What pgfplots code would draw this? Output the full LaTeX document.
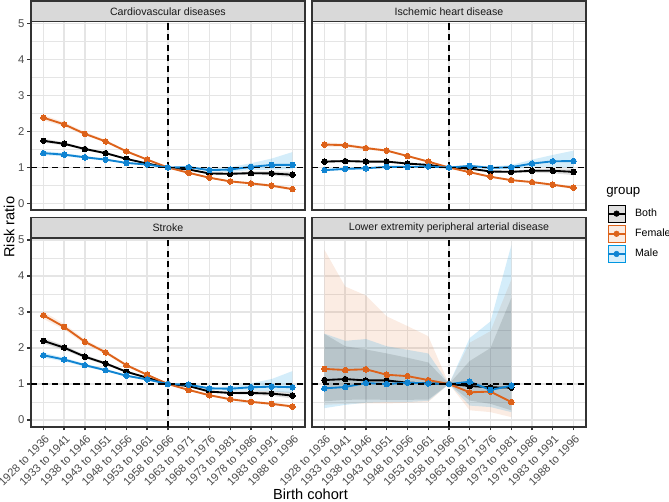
\documentclass[border=0pt]{standalone}
\usepackage{fontspec}
\setmainfont{Liberation Sans}
\usepackage{pgfplots}
\pgfplotsset{compat=1.18}
\usepackage{pgfplotstable}
\usepgfplotslibrary{fillbetween}

\definecolor{grey92}{gray}{0.90}
\definecolor{grey85}{gray}{0.85}
\definecolor{grey20}{gray}{0.2}
\definecolor{grey30}{gray}{0.3}
\definecolor{grey10}{gray}{0.1}
\definecolor{cfem}{RGB}{221,98,26}
\definecolor{cmale}{RGB}{16,132,210}
\definecolor{cmalefill}{RGB}{0,150,225}

% x b blo bhi f flo fhi m mlo mhi
\pgfplotstableread{
x b blo bhi f flo fhi m mlo mhi
0 1.743 1.69 1.80 2.385 2.31 2.46 1.40 1.34 1.46
1 1.66 1.62 1.70 2.20 2.14 2.26 1.358 1.32 1.40
2 1.514 1.48 1.55 1.936 1.89 1.99 1.284 1.25 1.32
3 1.40 1.37 1.43 1.725 1.69 1.77 1.22 1.19 1.25
4 1.24 1.215 1.265 1.45 1.415 1.485 1.128 1.10 1.155
5 1.11 1.09 1.13 1.22 1.195 1.245 1.083 1.06 1.105
6 1 1 1 1 1 1 1 1 1
7 0.945 0.925 0.965 0.853 0.833 0.873 1.01 0.98 1.04
8 0.835 0.81 0.86 0.716 0.69 0.74 0.927 0.89 0.97
9 0.826 0.795 0.86 0.615 0.585 0.645 0.945 0.88 1.01
10 0.844 0.80 0.89 0.56 0.525 0.595 1.018 0.93 1.12
11 0.835 0.78 0.895 0.495 0.455 0.535 1.073 0.94 1.25
12 0.80 0.73 0.88 0.40 0.36 0.445 1.073 0.95 1.43
}\cvd

\pgfplotstableread{
x b blo bhi f flo fhi m mlo mhi
0 1.165 1.13 1.20 1.64 1.58 1.70 0.927 0.89 0.965
1 1.18 1.15 1.21 1.62 1.57 1.67 0.963 0.93 0.995
2 1.165 1.14 1.19 1.54 1.50 1.58 0.98 0.955 1.005
3 1.165 1.14 1.19 1.47 1.435 1.505 1.018 0.995 1.04
4 1.11 1.09 1.13 1.32 1.29 1.35 1.018 0.998 1.038
5 1.073 1.055 1.09 1.165 1.14 1.19 1.028 1.01 1.046
6 1 1 1 1 1 1 1 1 1
7 0.97 0.95 0.99 0.87 0.85 0.89 1.046 1.01 1.08
8 0.89 0.865 0.915 0.743 0.72 0.765 0.99 0.95 1.03
9 0.88 0.85 0.91 0.65 0.625 0.675 1.01 0.95 1.07
10 0.91 0.86 0.96 0.596 0.565 0.625 1.11 1.00 1.22
11 0.91 0.84 0.98 0.523 0.49 0.56 1.174 1.02 1.35
12 0.88 0.79 0.98 0.44 0.40 0.48 1.18 0.98 1.47
}\ihd

\pgfplotstableread{
x b blo bhi f flo fhi m mlo mhi
0 2.20 2.12 2.28 2.91 2.81 3.01 1.80 1.73 1.87
1 2.01 1.95 2.07 2.587 2.51 2.67 1.68 1.63 1.73
2 1.76 1.71 1.81 2.174 2.11 2.24 1.523 1.48 1.565
3 1.57 1.53 1.61 1.88 1.83 1.93 1.385 1.35 1.42
4 1.34 1.31 1.37 1.523 1.48 1.565 1.23 1.20 1.26
5 1.174 1.15 1.20 1.257 1.225 1.29 1.128 1.10 1.155
6 1 1 1 1 1 1 1 1 1
7 0.945 0.92 0.97 0.835 0.81 0.86 0.98 0.95 1.01
8 0.79 0.76 0.82 0.688 0.66 0.715 0.88 0.84 0.92
9 0.752 0.715 0.79 0.578 0.55 0.61 0.87 0.81 0.93
10 0.752 0.70 0.81 0.505 0.47 0.54 0.91 0.82 1.02
11 0.734 0.67 0.81 0.45 0.41 0.49 0.927 0.80 1.14
12 0.68 0.60 0.78 0.376 0.33 0.42 0.91 0.75 1.36
}\stroke

\pgfplotstableread{
x b blo bhi f flo fhi m mlo mhi
0 1.11 0.52 2.39 1.42 0.42 4.73 0.88 0.33 2.40
1 1.138 0.56 2.05 1.39 0.45 3.71 0.917 0.42 2.20
2 1.10 0.57 1.96 1.41 0.46 3.46 1.028 0.48 2.25
3 1.10 0.56 1.85 1.257 0.46 2.88 1.0 0.50 2.05
4 1.037 0.56 1.73 1.22 0.48 2.61 1.037 0.50 1.95
5 1.018 0.57 1.60 1.11 0.50 2.33 1.018 0.53 1.85
6 1 1 1 1 1 1 1 1 1
7 0.945 0.54 1.64 0.77 0.27 2.15 1.064 0.40 2.28
8 0.908 0.45 2.00 0.79 0.22 2.47 0.835 0.36 2.74
9 0.90 0.27 3.39 0.50 0.08 3.90 0.954 0.22 4.85
}\lepad

\pgfplotsset{
  facet/.style={
    scale only axis, width=206.3pt, height=142pt,
    xmin=-0.6, xmax=12.6, ymin=-0.185, ymax=5.055,
    xtick={0,...,12}, ytick={0,...,5},
    minor ytick={0.5,1.5,2.5,3.5,4.5},
    grid=both,
    major grid style={draw=grey92, line width=1.07pt},
    minor grid style={draw=grey92, line width=0.53pt},
    axis line style={draw=grey20, line width=1.3pt},
    tick style={draw=grey20, line width=1.07pt},
    major tick length=2.75pt, minor tick length=0pt,
    tick align=outside, xtick pos=bottom, ytick pos=left,
    /pgf/number format/assume math mode=true,
    tick label style={font=\fontsize{8.5}{10}\selectfont, text=grey30},
    xticklabels={1928 to 1936,1933 to 1941,1938 to 1946,1943 to 1951,1948 to 1956,1953 to 1961,1958 to 1966,1963 to 1971,1968 to 1976,1973 to 1981,1978 to 1986,1983 to 1991,1988 to 1996},
    xticklabel style={rotate=45, anchor=north east, inner sep=1.5pt, yshift=-1pt},
    yticklabel style={inner sep=2pt},
    /pgfplots/every axis title shift=0pt,
    title style={at={(0.5,1)}, anchor=south, yshift=0pt, minimum width=206.3pt, minimum height=15.5pt, inner sep=0pt, outer sep=0pt, fill=grey85, draw=grey20, line width=1.2pt, font=\fontsize{8}{10}\selectfont, text=grey10},
  },
  noxlabels/.style={xticklabels={}, xtick style={draw=none}},
  noylabels/.style={yticklabels={}, ytick style={draw=none}},
  bline/.style={color=black, line width=1.4pt, mark=*, mark size=2.1pt, mark options={solid, fill=black, draw=black, line width=0pt}},
  fline/.style={color=cfem, line width=1.4pt, mark=*, mark size=2.1pt, mark options={solid, fill=cfem, draw=cfem, line width=0pt}},
  mline/.style={color=cmale, line width=1.4pt, mark=*, mark size=2.1pt, mark options={solid, fill=cmale, draw=cmale, line width=0pt}},
  refline/.style={black, line width=1.4pt, dash pattern=on 4.6pt off 3.4pt, forget plot},
}

\newcommand{\panel}[2]{%
  \addplot[draw=none, name path=bh#2, forget plot] table[x=x,y=bhi]{#1};
  \addplot[draw=none, name path=bl#2, forget plot] table[x=x,y=blo]{#1};
  \addplot[fill=black, fill opacity=0.13, draw=none, forget plot] fill between[of=bh#2 and bl#2];
  \addplot[draw=none, name path=fh#2, forget plot] table[x=x,y=fhi]{#1};
  \addplot[draw=none, name path=fl#2, forget plot] table[x=x,y=flo]{#1};
  \addplot[fill=cfem, fill opacity=0.12, draw=none, forget plot] fill between[of=fh#2 and fl#2];
  \addplot[draw=none, name path=mh#2, forget plot] table[x=x,y=mhi]{#1};
  \addplot[draw=none, name path=ml#2, forget plot] table[x=x,y=mlo]{#1};
  \addplot[fill=cmalefill, fill opacity=0.17, draw=none, forget plot] fill between[of=mh#2 and ml#2];
  \addplot[bline, forget plot] table[x=x,y=b]{#1};
  \addplot[fline, forget plot] table[x=x,y=f]{#1};
  \addplot[mline, forget plot] table[x=x,y=m]{#1};
  \addplot[refline] coordinates {(-0.6,1) (12.6,1)};
  \addplot[refline] coordinates {(6,-0.185) (6,5.055)};
}

\begin{document}
\begin{tikzpicture}

\begin{axis}[facet, noxlabels, at={(23.3pt,-158.25pt)}, anchor=south west,
  title={Cardiovascular diseases}]
\panel{\cvd}{a}
\end{axis}

\begin{axis}[facet, noxlabels, noylabels, at={(234.9pt,-158.25pt)}, anchor=south west,
  title={Ischemic heart disease},
  legend style={at={(1.0766,0.029)}, anchor=north west, draw=none, fill=none,
    inner sep=0pt, outer sep=0pt, row sep=1.8pt,
    font=\fontsize{8}{10}\selectfont,
    nodes={inner sep=0pt, outer sep=0pt},
    /tikz/every odd column/.append style={column sep=6.8pt}},
  legend cell align=left]
\addlegendimage{legend image code/.code={\fill[black, fill opacity=0.12] (0pt,-6.5pt) rectangle (13pt,6.5pt); \draw[black, line width=1.4pt] (0pt,0pt) -- (13pt,0pt); \fill[black] (6.5pt,0pt) circle[radius=2.1pt];}}
\addlegendentry{Both}
\addlegendimage{legend image code/.code={\fill[cfem, fill opacity=0.12] (0pt,-6.5pt) rectangle (13pt,6.5pt); \draw[cfem, line width=1.4pt] (0pt,0pt) -- (13pt,0pt); \fill[cfem] (6.5pt,0pt) circle[radius=2.1pt];}}
\addlegendentry{Female}
\addlegendimage{legend image code/.code={\fill[cmalefill, fill opacity=0.15] (0pt,-6.5pt) rectangle (13pt,6.5pt); \draw[cmale, line width=1.4pt] (0pt,0pt) -- (13pt,0pt); \fill[cmale] (6.5pt,0pt) circle[radius=2.1pt];}}
\addlegendentry{Male}
\panel{\ihd}{b}
\end{axis}

\begin{axis}[facet, at={(23.3pt,-321.25pt)}, anchor=south west,
  title={Stroke}]
\panel{\stroke}{c}
\end{axis}

\begin{axis}[facet, noylabels, at={(234.9pt,-321.25pt)}, anchor=south west,
  title={Lower extremity peripheral arterial disease}]
\panel{\lepad}{d}
\end{axis}

\node[rotate=90, inner sep=0pt, font=\fontsize{11}{13}\selectfont] at (6.8pt,-171pt) {Risk ratio};
\node[anchor=base, inner sep=0pt, font=\fontsize{11}{13}\selectfont] at (233.8pt,-375.8pt) {Birth cohort};
\node[anchor=base west, inner sep=0pt, font=\fontsize{10}{12}\selectfont] at (456.3pt,-146.1pt) {group};

\pgfresetboundingbox
\useasboundingbox (0,0) rectangle (503.7pt,-377.3pt);
\end{tikzpicture}
\end{document}
